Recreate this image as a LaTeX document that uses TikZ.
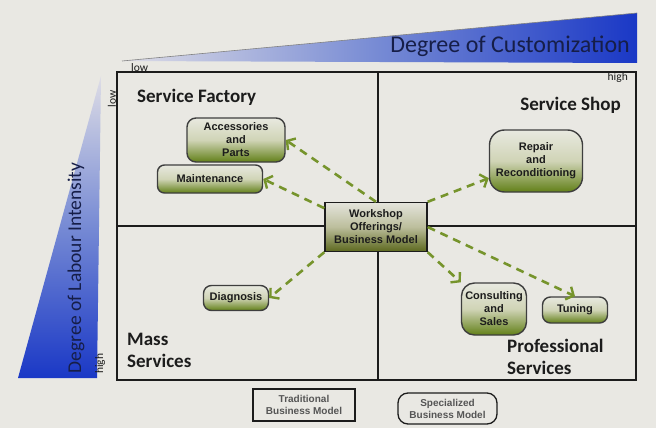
\documentclass[tikz,border=0pt]{standalone}
\usepackage{fontspec}
\setmainfont{Carlito}
\newfontfamily\boxfont{Liberation Sans}
\usetikzlibrary{arrows.meta}

\definecolor{paper}{RGB}{233,232,227}
\definecolor{ink}{RGB}{28,28,28}
\definecolor{navy}{RGB}{22,30,72}
\definecolor{barblue}{RGB}{26,56,198}
\definecolor{barmid}{RGB}{118,138,212}
\definecolor{barlight}{RGB}{222,221,230}
\definecolor{nodetop}{RGB}{232,233,224}
\definecolor{nodemid}{RGB}{208,212,182}
\definecolor{olive}{RGB}{98,128,24}
\definecolor{worktop}{RGB}{228,228,220}
\definecolor{workmid}{RGB}{188,190,156}
\definecolor{workbot}{RGB}{92,104,30}
\definecolor{arrowgreen}{RGB}{118,148,44}

\begin{document}
\begin{tikzpicture}[x=1pt,y=-1pt,
  offer/.style={draw=ink!85, line width=1.4pt, align=center, inner sep=0pt,
    font=\boxfont\bfseries\fontsize{11}{13}\selectfont, text=ink,
    top color=nodetop, bottom color=olive, middle color=nodemid},
  hub/.style={draw=ink, line width=1.4pt, align=center, inner sep=0pt,
    font=\boxfont\bfseries\fontsize{11}{13}\selectfont, text=ink,
    top color=worktop, bottom color=workbot, middle color=workmid},
  legendbox/.style={draw=ink, line width=1.3pt, align=center, inner sep=0pt,
    font=\boxfont\bfseries\fontsize{10}{12}\selectfont, text=ink!75},
  quadrant/.style={font=\bfseries\fontsize{19}{21.5}\selectfont, text=ink, inner sep=0pt},
  tick/.style={font=\fontsize{11.5}{13}\selectfont, text=ink, inner sep=0pt},
  flow/.style={draw=arrowgreen, line width=2.6pt, dash pattern=on 8pt off 6pt,
    -{Straight Barb[length=6pt,width=14pt,line width=2.4pt]}},
  frame/.style={draw=ink, line width=1.5pt}
]
% page
\fill[paper] (0,0) rectangle (656,428);
\useasboundingbox (0,0) rectangle (656,428);

% customization wedge
\shade[left color=barlight, right color=barblue, middle color=barmid]
  (122,61) -- (637,13) -- (637,63) -- cycle;
\draw[ink!55, line width=0.6pt] (122,61) -- (637,13);
\node[anchor=east, text=navy, font=\fontsize{24}{26}\selectfont, inner sep=0pt]
  (custtitle) at (630,46) {Degree of Customization};
\node[tick, anchor=west] (custlow) at (131,68) {low};
\node[tick, anchor=east] (custhigh) at (628,77) {high};

% labour wedge
\shade[top color=barlight, bottom color=barblue, middle color=barmid]
  (101,76) -- (97,378) -- (18,378) -- cycle;
\node[rotate=90, text=navy, font=\fontsize{19.5}{21}\selectfont, inner sep=0pt]
  (labtitle) at (76,268) {Degree of Labour Intensity};
\node[tick, rotate=90, anchor=east] (lablow) at (112,90) {low};
\node[tick, rotate=90, anchor=west] (labhigh) at (100,374) {high};

% quadrant grid
\draw[frame] (117,72) rectangle (636,380);
\draw[frame] (378,72) -- (378,380);
\draw[frame] (117,226) -- (636,226);

% quadrant names
\node[quadrant, anchor=west] (sf) at (137,97) {Service Factory};
\node[quadrant, anchor=east] (ss) at (621,105) {Service Shop};
\node[quadrant, anchor=north west, align=left] (ms) at (127,333) {Mass\\Services};
\node[quadrant, anchor=north west, align=left] (ps) at (507,339) {Professional\\Services};

% offerings
\node[offer, rounded corners=9pt, minimum width=98pt, minimum height=44pt]
  (acc) at (236,140) {Accessories\\and\\Parts};
\node[offer, rounded corners=7pt, minimum width=105pt, minimum height=28pt]
  (maint) at (210,179) {Maintenance};
\node[offer, rounded corners=15pt, minimum width=93pt, minimum height=62pt]
  (repair) at (536,161) {Repair\\and\\Reconditioning};
\node[hub, minimum width=102pt, minimum height=49pt]
  (work) at (376,227) {Workshop\\Offerings/\\Business Model};
\node[offer, rounded corners=8pt, minimum width=65pt, minimum height=25pt]
  (diag) at (236,298) {Diagnosis};
\node[offer, rounded corners=13pt, minimum width=65pt, minimum height=52pt]
  (cons) at (494,309) {Consulting\\and\\Sales};
\node[offer, rounded corners=8pt, minimum width=65pt, minimum height=26pt]
  (tune) at (575,310) {Tuning};

% flows from the hub
\draw[flow] (work.north) -- (acc.east);
\draw[flow] (work.160) -- (maint.east);
\draw[flow] (work.north east) -- (repair.200);
\draw[flow] (work.south west) -- (diag.east);
\draw[flow] (work.south east) -- (cons.north west);
\draw[flow] (work.east) -- (tune.north);

% legend
\node[legendbox, minimum width=102pt, minimum height=32pt]
  (trad) at (304,405) {Traditional\\Business Model};
\node[legendbox, rounded corners=10pt, minimum width=99pt, minimum height=31pt]
  (spec) at (447.5,408.5) {Specialized\\Business Model};
\end{tikzpicture}
\end{document}
